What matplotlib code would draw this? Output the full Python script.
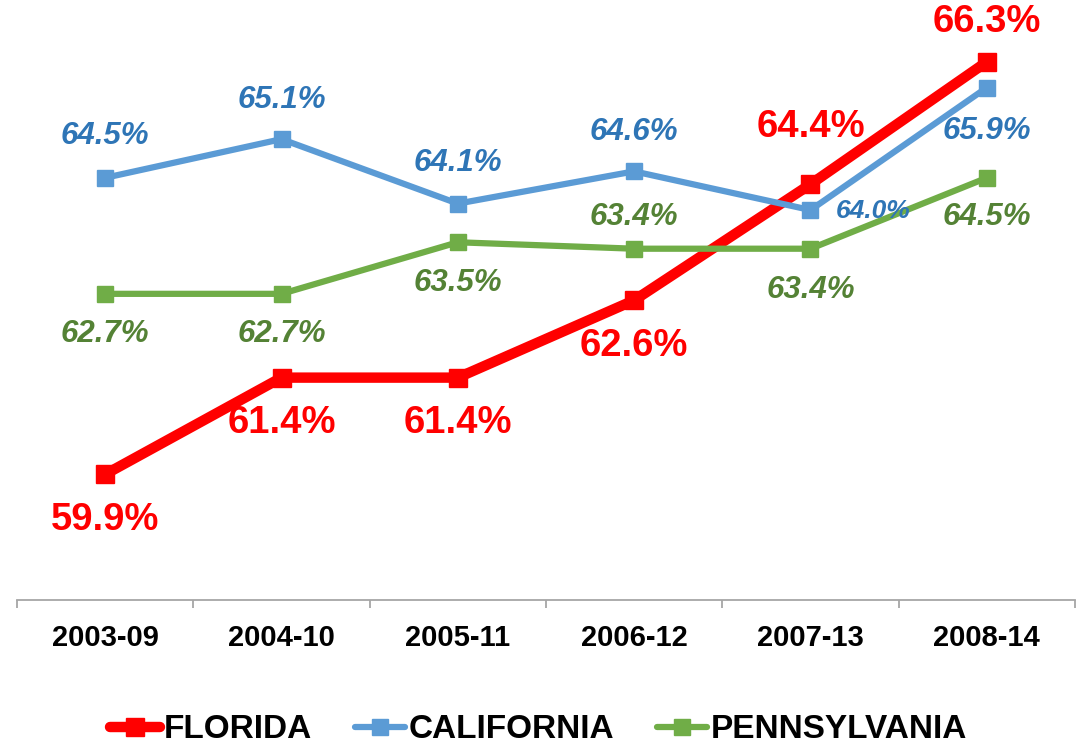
import matplotlib
matplotlib.use("Agg")
import matplotlib.pyplot as plt
import numpy as np

categories = ["2003-09", "2004-10", "2005-11", "2006-12", "2007-13", "2008-14"]
florida = [59.9, 61.4, 61.4, 62.6, 64.4, 66.3]
california = [64.5, 65.1, 64.1, 64.6, 64.0, 65.9]
pennsylvania = [62.7, 62.7, 63.5, 63.4, 63.4, 64.5]

plt.rcParams['font.family'] = ['Liberation Sans', 'DejaVu Sans']

fig = plt.figure(figsize=(10.77, 7.44), dpi=100)
ax = fig.add_axes([17/1077, 1 - 600/744, (1075 - 17)/1077, 593/744])

x = np.arange(len(categories))

FL_LINE, FL_TXT = "#FF0000", "#FF0000"
CA_LINE, CA_TXT = "#5B9BD5", "#2E75B6"
PA_LINE, PA_TXT = "#70AD47", "#548235"

ax.plot(x, florida, color=FL_LINE, lw=7.5, marker="s", ms=13, label="FLORIDA", zorder=3,
        solid_capstyle="round")
ax.plot(x, california, color=CA_LINE, lw=4.5, marker="s", ms=12, label="CALIFORNIA", zorder=4,
        solid_capstyle="round")
ax.plot(x, pennsylvania, color=PA_LINE, lw=4.5, marker="s", ms=12, label="PENNSYLVANIA", zorder=5,
        solid_capstyle="round")

def lab(i, v, color, offset, size, style="italic", ha="center"):
    ax.annotate(f"{v:.1f}%", (x[i], v), xytext=offset, textcoords="offset points",
                ha=ha, va="center", color=color, fontsize=size, fontweight="bold",
                fontstyle=style, zorder=6)

# Florida labels (bold, upright)
fl_off = [(0, -33), (0, -33), (0, -33), (0, -33), (0, 41), (0, 29)]
for i, v in enumerate(florida):
    lab(i, v, FL_TXT, fl_off[i], 27.5, style="normal")

# California labels
ca_off = [(0, 30), (0, 28), (0, 29), (0, 28), (18, -1), (0, -31)]
ca_size = [22.5, 22.5, 22.5, 22.5, 19, 22.5]
for i, v in enumerate(california):
    lab(i, v, CA_TXT, ca_off[i], ca_size[i], ha=("left" if i == 4 else "center"))

# Pennsylvania labels
pa_off = [(0, -29), (0, -29), (0, -29), (0, 23), (0, -30), (0, -28)]
for i, v in enumerate(pennsylvania):
    lab(i, v, PA_TXT, pa_off[i], 22.5)

ax.set_xlim(-0.5, len(categories) - 0.5)
ax.set_ylim(57.95, 67.15)
ax.set_yticks([])
for s in ["left", "right", "top"]:
    ax.spines[s].set_visible(False)
ax.spines["bottom"].set_color("#A6A6A6")
ax.spines["bottom"].set_linewidth(1.3)

ax.set_xticks(x)
ax.set_xticklabels(categories, fontsize=21, fontweight="bold")
ax.tick_params(axis="x", which="major", length=0, pad=17)
ax.set_xticks(np.arange(-0.5, len(categories)), minor=True)
ax.tick_params(axis="x", which="minor", length=6, width=1.3, color="#A6A6A6", direction="out")

leg = fig.legend(loc="center", bbox_to_anchor=(0.5, 1 - 730/744), ncol=3, frameon=False,
                 prop={"size": 24, "weight": "bold"}, handlelength=1.5, handletextpad=0.1,
                 columnspacing=1.3, borderaxespad=0)

fig.savefig("out.png", dpi=100)
